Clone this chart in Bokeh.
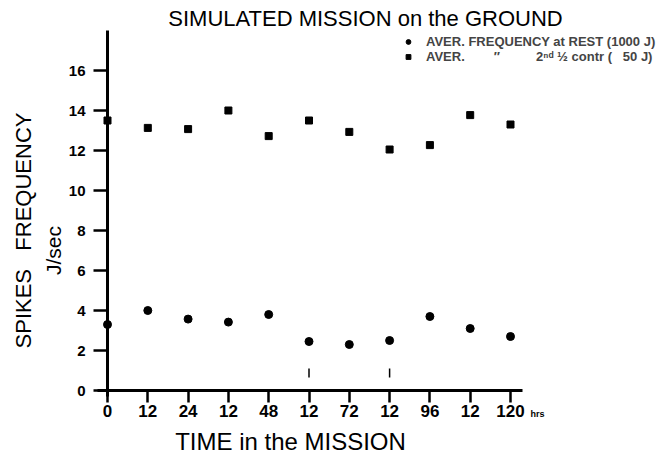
import math
from bokeh.plotting import figure
from bokeh.models import (Range1d, FixedTicker, Label, Legend, LegendItem,
                          ColumnDataSource)
from bokeh.embed import file_html
from bokeh.resources import INLINE

# ---- data -------------------------------------------------------------
tick_labels = ["0", "12", "24", "12", "48", "12", "72", "12", "96", "12", "120"]
x_idx = list(range(len(tick_labels)))
rest_freq = [3.3, 4.0, 3.57, 3.42, 3.8, 2.45, 2.3, 2.5, 3.7, 3.1, 2.7]
contr_freq = [13.5, 13.13, 13.07, 14.0, 12.72, 13.5, 12.93, 12.05, 12.27, 13.77, 13.3]
y_ticks = [0, 2, 4, 6, 8, 10, 12, 14, 16]
# small vertical marks drawn under two points
mark_x = [5, 7]
mark_y0 = [0.65, 0.65]
mark_y1 = [1.1, 1.1]

FONT = "Liberation Sans"
NB = "\u00a0"
W, H = 661, 454
X0, XS = 107.0, 40.3     # pixel of x=0, pixels per category step
Y0, YS = 390.0, 20.0     # pixel of y=0, pixels per unit


def px_to_x(px):
    return (px - X0) / XS


def px_to_y(py):
    return (Y0 - py) / YS


p = figure(width=W, height=H, output_backend="svg", toolbar_location=None,
           x_range=Range1d(px_to_x(0), px_to_x(W)),
           y_range=Range1d(px_to_y(H), px_to_y(0)),
           min_border_left=0, min_border_right=0,
           min_border_top=0, min_border_bottom=0,
           background_fill_color="white", border_fill_color="white")
p.outline_line_color = None
p.grid.grid_line_color = None

# axes drawn inside the frame at fixed data positions
for ax in (p.xaxis[0], p.yaxis[0]):
    ax.fixed_location = 0
    ax.axis_line_width = 3
    ax.axis_line_color = "black"
    ax.major_tick_line_width = 2.5
    ax.major_tick_line_color = "black"
    ax.minor_tick_line_color = None
    ax.major_tick_in = 0
    ax.major_label_text_font = FONT
    ax.major_label_text_font_style = "bold"
    ax.major_label_text_color = "black"

p.xaxis.ticker = FixedTicker(ticks=x_idx)
p.xaxis.major_label_overrides = {i: t for i, t in zip(x_idx, tick_labels)}
p.xaxis.bounds = (-0.25, 10.3)
p.xaxis.major_tick_out = 12
p.xaxis.major_label_standoff = 2
p.xaxis.major_label_text_font_size = "17px"

p.yaxis.ticker = FixedTicker(ticks=y_ticks)
p.yaxis.bounds = (-0.3, 18)
p.yaxis.major_tick_out = 14
p.yaxis.major_label_standoff = 8
p.yaxis.major_label_text_font_size = "15px"

src = ColumnDataSource(dict(x=x_idx, rest=rest_freq, contr=contr_freq))
r1 = p.scatter("x", "rest", source=src, marker="circle", size=8,
               fill_color="black", line_color="black")
r2 = p.scatter("x", "contr", source=src, marker="square", size=7,
               fill_color="black", line_color="black")
p.segment(x0=mark_x, y0=mark_y0, x1=mark_x, y1=mark_y1,
          line_color="black", line_width=1.5)

label1 = "AVER. FREQUENCY at REST (1000" + NB + "J)"
label2 = ("AVER." + NB * 8 + "\u2033" + NB * 10 + "2\u207f\u1d48" + NB + "\u00bd"
          + NB + "contr" + NB + "(" + NB * 3 + "50" + NB + "J)")
legend = Legend(items=[
    LegendItem(label=label1, renderers=[r1]),
    LegendItem(label=label2, renderers=[r2]),
], location=(402, 390), orientation="vertical",
    background_fill_alpha=0, border_line_color=None,
    label_text_font=FONT, label_text_font_style="bold",
    label_text_font_size="13px", glyph_width=12, glyph_height=13,
    label_height=13, spacing=0, padding=0, margin=0, label_standoff=12)
p.add_layout(legend)

p.add_layout(Label(x=px_to_x(365), y=px_to_y(18), text="SIMULATED MISSION on the GROUND",
                   text_font=FONT, text_font_size="22px", text_align="center",
                   text_baseline="middle", text_color="black"))
p.add_layout(Label(x=px_to_x(290), y=px_to_y(441), text="TIME in the MISSION",
                   text_font=FONT, text_font_size="24px", text_align="center",
                   text_baseline="middle", text_color="black"))
p.add_layout(Label(x=px_to_x(530), y=px_to_y(413), text="hrs",
                   text_font=FONT, text_font_size="9px", text_font_style="bold",
                   text_align="left", text_baseline="middle", text_color="black"))
p.add_layout(Label(x=px_to_x(23), y=px_to_y(230), text="SPIKES" + NB * 3 + "FREQUENCY",
                   angle=math.pi / 2, text_font=FONT, text_font_size="22px",
                   text_align="center", text_baseline="alphabetic", text_color="black"))
p.add_layout(Label(x=px_to_x(53), y=px_to_y(250), text="J/sec",
                   angle=math.pi / 2, text_font=FONT, text_font_size="21px",
                   text_align="center", text_baseline="alphabetic", text_color="black"))

open("out.html", "w").write(file_html(p, INLINE))
